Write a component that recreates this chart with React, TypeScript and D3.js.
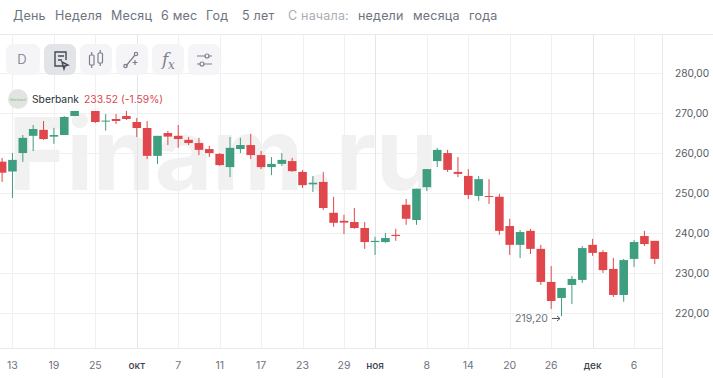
import React from "react";
import * as d3 from "d3";

const opens: (number | null)[] = [257.75,255.3,259.9,264.2,265.7,264.0,264.4,269.15,null,270.4,267.75,268.4,269.15,267.65,266.15,259.2,264.9,264.2,263.2,262.4,260.9,259.7,256.4,260.9,261.9,259.4,256.4,257.2,257.9,255.2,252.1,252.7,245.0,243.0,242.7,241.2,237.7,237.7,239.5,247.0,243.2,251.4,257.9,259.9,255.2,254.2,249.2,249.2,249.0,241.7,237.0,240.5,236.0,227.75,223.75,227.0,228.25,237.0,235.2,231.0,224.5,233.5,239.2,238.0];
const closes: (number | null)[] = [255.0,258.2,263.7,265.9,263.4,264.4,268.9,270.4,null,267.65,268.0,267.9,268.4,266.15,259.2,264.2,264.0,263.4,262.4,260.7,259.9,256.9,261.2,261.9,259.4,256.4,257.2,258.2,255.4,251.9,252.5,246.2,242.5,242.55,241.2,237.7,238.0,238.7,239.2,243.5,251.0,255.9,260.7,255.7,254.7,249.45,253.4,249.0,240.5,237.0,240.2,236.0,227.75,223.0,226.25,228.5,236.2,235.0,230.7,224.5,233.2,237.7,237.2,233.5];
const highs: (number | null)[] = [258.7,259.9,264.4,266.9,267.9,266.2,269.15,270.4,null,270.4,269.65,269.65,270.4,268.65,267.9,264.2,265.4,266.9,263.9,263.7,261.7,259.9,263.9,263.7,264.7,260.4,258.9,259.9,258.7,255.7,254.2,255.2,249.0,244.5,246.2,242.7,239.0,240.0,241.0,248.45,251.0,255.9,261.2,260.7,258.9,255.9,254.2,253.4,249.7,243.5,240.7,241.0,237.0,231.7,226.25,229.25,236.7,238.5,235.7,233.75,233.5,238.2,240.5,238.0];
const lows: (number | null)[] = [252.7,248.7,257.7,260.4,263.2,262.2,264.4,269.15,null,267.4,265.5,267.15,268.15,263.9,258.4,257.2,261.9,261.2,261.9,259.4,258.9,256.7,253.9,259.9,258.4,255.9,254.4,256.7,255.2,251.2,250.2,245.7,241.5,239.7,241.0,236.0,234.5,237.5,238.0,242.0,242.0,250.4,256.4,255.2,253.9,248.45,248.0,247.2,239.5,234.5,233.7,234.7,227.0,221.0,219.2,222.25,227.5,234.25,230.0,224.0,222.8,231.5,236.7,232.2];

const priceTicks = [280, 270, 260, 250, 240, 230, 220];
const dateTickIndex = [1, 5, 9, 13, 17, 21, 25, 29, 33, 36, 41, 45, 49, 53, 57, 61];
const dateTickLabels = ["13", "19", "25", "окт", "7", "11", "17", "23", "29", "ноя", "8", "14", "20", "26", "дек", "6"];
const monthLabels = ["окт", "ноя", "дек"];
const navItems: [string, number, string][] = [
  ["День", 13, "#6e7380"], ["Неделя", 55, "#6e7380"], ["Месяц", 111, "#6e7380"], ["6 мес", 161, "#6e7380"], ["Год", 206, "#6e7380"], ["5 лет", 242, "#6e7380"],
  ["С начала:", 288, "#a9adb6"], ["недели", 358, "#6e7380"], ["месяца", 413, "#6e7380"], ["года", 469, "#6e7380"],
];
const toolX = [6, 44, 80, 116, 152, 188];

const RED = "#e0474c";
const GREEN = "#3f9d80";
const FONT = "Inter, sans-serif";

export default function App() {
  const x = d3.scaleLinear().domain([0, 60]).range([2.1, 623.7]);
  const y = d3.scaleLinear().domain([280, 220]).range([72.5, 313]);
  const bw = 8.6;
  return (
    <svg width={713} height={378} style={{ position: "absolute", left: 0, top: 0, background: "#fff", fontFamily: FONT }}>
      <text x={8} y={190} fontSize={100} fontWeight={700} fill="#f1f1f2" textLength={430} lengthAdjust="spacing">Finam.ru</text>
      {priceTicks.map((p) => (
        <line key={p} x1={0} x2={662} y1={Math.round(y(p)) + 0.5} y2={Math.round(y(p)) + 0.5} stroke="#f0f0f1" />
      ))}
      {dateTickIndex.map((d, i) => (
        <line key={d} x1={Math.round(x(d)) + 0.5} x2={Math.round(x(d)) + 0.5} y1={34} y2={348}
          stroke={monthLabels.includes(dateTickLabels[i]) ? "#e4e5e7" : "#f0f0f1"} />
      ))}
      <line x1={0} x2={713} y1={34.5} y2={34.5} stroke="#e9eaec" />
      <line x1={0} x2={663} y1={348.5} y2={348.5} stroke="#e9eaec" />
      <line x1={662.5} x2={662.5} y1={34} y2={378} stroke="#e9eaec" />

      {navItems.map(([t, tx, c]) => (
        <text key={t} x={tx} y={20} fontSize={12.5} fill={c} letterSpacing={0.2}>{t}</text>
      ))}

      {toolX.map((tx, i) => (
        <rect key={tx} x={tx} y={44} width={i === 0 ? 34 : 32} height={31} rx={7} fill={i === 1 ? "#e3e4e8" : "#f5f5f7"} />
      ))}
      <text x={22} y={64} fontSize={13} fill="#8a8e98" textAnchor="middle">D</text>
      <g fill="none" stroke="#444a55" strokeWidth={1.4}>
        <path d="M65 66 H55 V52 H66 V60" />
        <path d="M58 56 H64 M58 60 H62" />
        <path d="M62 62 L68 65 L65 66 L64 69 Z" />
      </g>
      <g fill="none" stroke="#7b808b" strokeWidth={1.2}>
        <rect x={89.5} y={55} width={4.5} height={10} rx={1} />
        <rect x={98} y={53} width={4.5} height={10} rx={1} />
        <path d="M91.7 52 V55 M91.7 65 V68 M100.2 50 V53 M100.2 63 V66" />
        <path d="M126 66 L135 55" />
        <circle cx={125.5} cy={66} r={1.7} />
        <circle cx={136} cy={54} r={1.7} />
        <path d="M135 60 V65 M132.5 62.5 H137.5" />
        <path d="M197 56 H212 M197 64 H212" />
        <circle cx={207} cy={56} r={2} fill="#f5f5f7" />
        <circle cx={202} cy={64} r={2} fill="#f5f5f7" />
      </g>
      <text x={162} y={65} fontSize={17} fontStyle="italic" fontFamily="'DejaVu Serif', serif" fill="#7b808b">f</text>
      <text x={168} y={69} fontSize={12} fontStyle="italic" fontFamily="'DejaVu Serif', serif" fill="#7b808b">x</text>

      <circle cx={18} cy={99} r={10} fill="#e2e4e2" />
      <text x={18} y={100.5} fontSize={3.6} fill="#7dba86" textAnchor="middle">Sberbank</text>
      <text x={32} y={103} fontSize={10.3} fill="#2b2f38">Sberbank</text>
      <text x={84} y={103} fontSize={10.3} fill="#d9474d">233.52 (-1.59%)</text>

      {opens.map((o, i) => {
        const c = closes[i], h = highs[i], l = lows[i];
        if (o == null || c == null || h == null || l == null) return null;
        const col = c >= o ? GREEN : RED;
        const top = y(Math.max(o, c));
        const bot = y(Math.min(o, c));
        return (
          <g key={i}>
            <line x1={x(i)} x2={x(i)} y1={y(h)} y2={y(l)} stroke={col} strokeWidth={1} />
            <rect x={x(i) - bw / 2} y={top} width={bw} height={Math.max(bot - top, 1)} fill={col} />
          </g>
        );
      })}

      <text x={548} y={322} fontSize={10.5} fill="#6e7380" textAnchor="end">219,20</text>
      <path d="M552 318.5 H560 M557 316 L560 318.5 L557 321" fill="none" stroke="#555a65" strokeWidth={1} />

      {priceTicks.map((p) => (
        <text key={p} x={675} y={y(p) + 4} fontSize={10.2} fill="#555a65">{p.toFixed(2).replace(".", ",")}</text>
      ))}
      {dateTickIndex.map((d, i) => {
        const m = monthLabels.includes(dateTickLabels[i]);
        return (
          <text key={d} x={x(d)} y={369} fontSize={m ? 10 : 10.5} fontWeight={m ? 500 : 400} fill={m ? "#3d424d" : "#6e7380"} textAnchor="middle">{dateTickLabels[i]}</text>
        );
      })}
    </svg>
  );
}
